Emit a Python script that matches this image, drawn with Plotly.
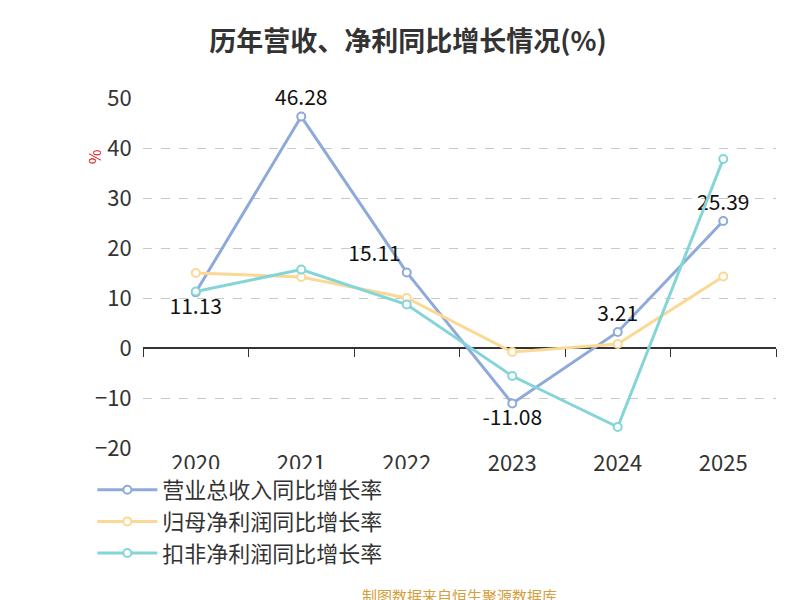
import plotly.graph_objects as go

years = ["2020", "2021", "2022", "2023", "2024", "2025"]
revenue = [11.13, 46.28, 15.11, -11.08, 3.21, 25.39]
net_profit = [15.0, 14.2, 10.0, -0.8, 0.8, 14.3]
deducted = [11.3, 15.7, 8.7, -5.6, -15.8, 37.8]
rev_pos = ["bottom center", "top center", "top left", "bottom center", "top center", "top center"]

fig = go.Figure()
fig.add_trace(go.Scatter(x=years, y=revenue, name="营业总收入同比增长率", mode="lines+markers+text",
                         text=[f"{v:.2f}" for v in revenue], textposition=rev_pos, cliponaxis=False,
                         textfont=dict(size=21, color="#111"),
                         line=dict(color="#8eaadb", width=3),
                         marker=dict(symbol="circle", size=8, color="white", line=dict(color="#8eaadb", width=2))))
fig.add_trace(go.Scatter(x=years, y=net_profit, name="归母净利润同比增长率", mode="lines+markers",
                         line=dict(color="#fbd894", width=3),
                         marker=dict(symbol="circle", size=8, color="white", line=dict(color="#fbd894", width=2))))
fig.add_trace(go.Scatter(x=years, y=deducted, name="扣非净利润同比增长率", mode="lines+markers",
                         line=dict(color="#84d5d8", width=3),
                         marker=dict(symbol="circle", size=8, color="white", line=dict(color="#84d5d8", width=2))))
# invisible trace carrying the tick marks on the zero line
fig.add_trace(go.Scatter(x=[0], y=[0], xaxis="x2", showlegend=False, mode="markers",
                         marker=dict(opacity=0), hoverinfo="skip"))

fig.update_layout(
    width=800, height=600, plot_bgcolor="white", paper_bgcolor="white",
    font=dict(family="Noto Sans CJK SC", color="#333"),
    margin=dict(l=135, r=32, t=90, b=160),
    title=dict(text="<b>历年营收、净利同比增长情况(%)</b>", x=0.5, y=0.96, xanchor="center",
               font=dict(size=27, color="#333")),
    xaxis=dict(range=[-0.5, 5.5], showgrid=False, showline=False, ticks="",
               tickfont=dict(size=22, color="#333"), type="category"),
    xaxis2=dict(overlaying="x", anchor="free", position=20 / 70, range=[-0.5, 5.5],
                tickvals=[-0.5, 0.5, 1.5, 2.5, 3.5, 4.5, 5.5], showticklabels=False,
                ticks="outside", ticklen=8, tickcolor="#333", showline=False, showgrid=False),
    yaxis=dict(range=[-20, 50], dtick=10, showgrid=True, gridcolor="#c8c8c8", griddash="dash",
               zeroline=True, zerolinecolor="#333", zerolinewidth=1.5,
               tickfont=dict(size=22, color="#333"), ticks="outside", ticklen=6, tickcolor="white"),
    legend=dict(orientation="h", x=-0.08, y=-0.06, xanchor="left", yanchor="top",
                font=dict(size=22, color="#333"), itemwidth=60,
                entrywidth=320, entrywidthmode="pixels"),
    annotations=[
        dict(text="%", x=-0.1, y=0.86, xref="paper", yref="paper", showarrow=False, textangle=-90,
             font=dict(size=16, color="#e02020")),
        dict(text="制图数据来自恒生聚源数据库", x=0.5, y=-0.42, xref="paper", yref="paper",
             yanchor="middle", showarrow=False, font=dict(size=15, color="#d4a03c")),
    ],
)

fig.write_html("out.html")
